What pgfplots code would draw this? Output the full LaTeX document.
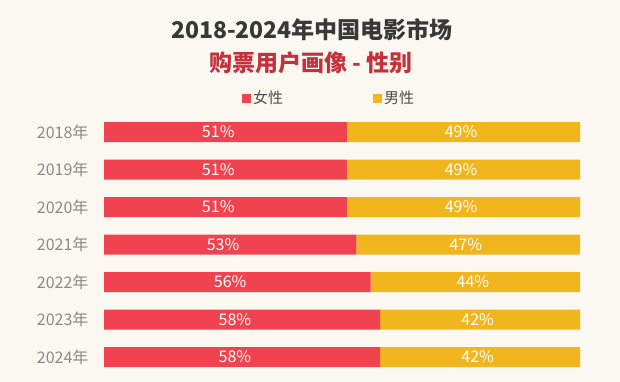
\documentclass[border=0pt]{standalone}
\usepackage{fontspec}
\setmainfont{Noto Sans CJK SC}
\usepackage{pgfplots}
\pgfplotsset{compat=1.18}
\definecolor{bg}{HTML}{FBF8F2}
\definecolor{fem}{HTML}{F0434F}
\definecolor{mal}{HTML}{F1B51E}
\definecolor{ttl}{HTML}{383838}
\definecolor{sub}{HTML}{C4313B}
\definecolor{lbl}{HTML}{8A8A8A}
\begin{document}
\begin{tikzpicture}
\fill[bg] (0pt,0pt) rectangle (620pt,-382pt);
\node[font=\fontsize{23}{23}\selectfont\bfseries, text=ttl] at (312pt,-30pt) {2018-2024年中国电影市场};
\node[font=\fontsize{23}{23}\selectfont\bfseries, text=sub] at (311pt,-63pt) {购票用户画像 - 性别};
\begin{axis}[
  at={(104pt,-113.25pt)}, anchor=north west,
  scale only axis, width=476pt, height=262.5pt,
  xbar stacked, bar width=20pt,
  xmin=0, xmax=100, ymin=-0.5, ymax=6.5, y dir=reverse,
  axis line style={draw=none}, tick style={draw=none},
  xtick=\empty, ytick={0,1,2,3,4,5,6},
  yticklabels={2018年,2019年,2020年,2021年,2022年,2023年,2024年},
  yticklabel style={font=\fontsize{16}{16}\selectfont, text=lbl, xshift=-12pt},
  legend columns=2,
  legend style={at={(0.473,1.058)}, anchor=center, draw=none, fill=none,
    font=\fontsize{15}{15}\selectfont, text=ttl!90,
    /tikz/every even column/.append style={column sep=88pt}},
  legend image code/.code={\fill[#1] (0pt,-4.5pt) rectangle (9pt,4.5pt);},
]
\addplot[fill=fem, draw=none] coordinates {(51,0) (51,1) (51,2) (53,3) (56,4) (58,5) (58,6)};
\addplot[fill=mal, draw=none] coordinates {(49,0) (49,1) (49,2) (47,3) (44,4) (42,5) (42,6)};
\legend{女性,男性}
\end{axis}
\begin{axis}[
  at={(104pt,-113.25pt)}, anchor=north west,
  scale only axis, width=476pt, height=262.5pt,
  xmin=0, xmax=100, ymin=-0.5, ymax=6.5, y dir=reverse, hide axis,
]
\addplot[only marks, mark=none, point meta=explicit,
  nodes near coords={\pgfmathprintnumber[assume math mode=true]{\pgfplotspointmeta}\%},
  nodes near coords style={anchor=center, text=white, font=\fontsize{16}{16}\selectfont}]
  table[meta=v] {
x y v
24 0 51
24 1 51
24 2 51
25 3 53
26.5 4 56
27.5 5 58
27.5 6 58
75 0 49
75 1 49
75 2 49
76 3 47
77.5 4 44
78.5 5 42
78.5 6 42
};
\end{axis}
\end{tikzpicture}
\end{document}
